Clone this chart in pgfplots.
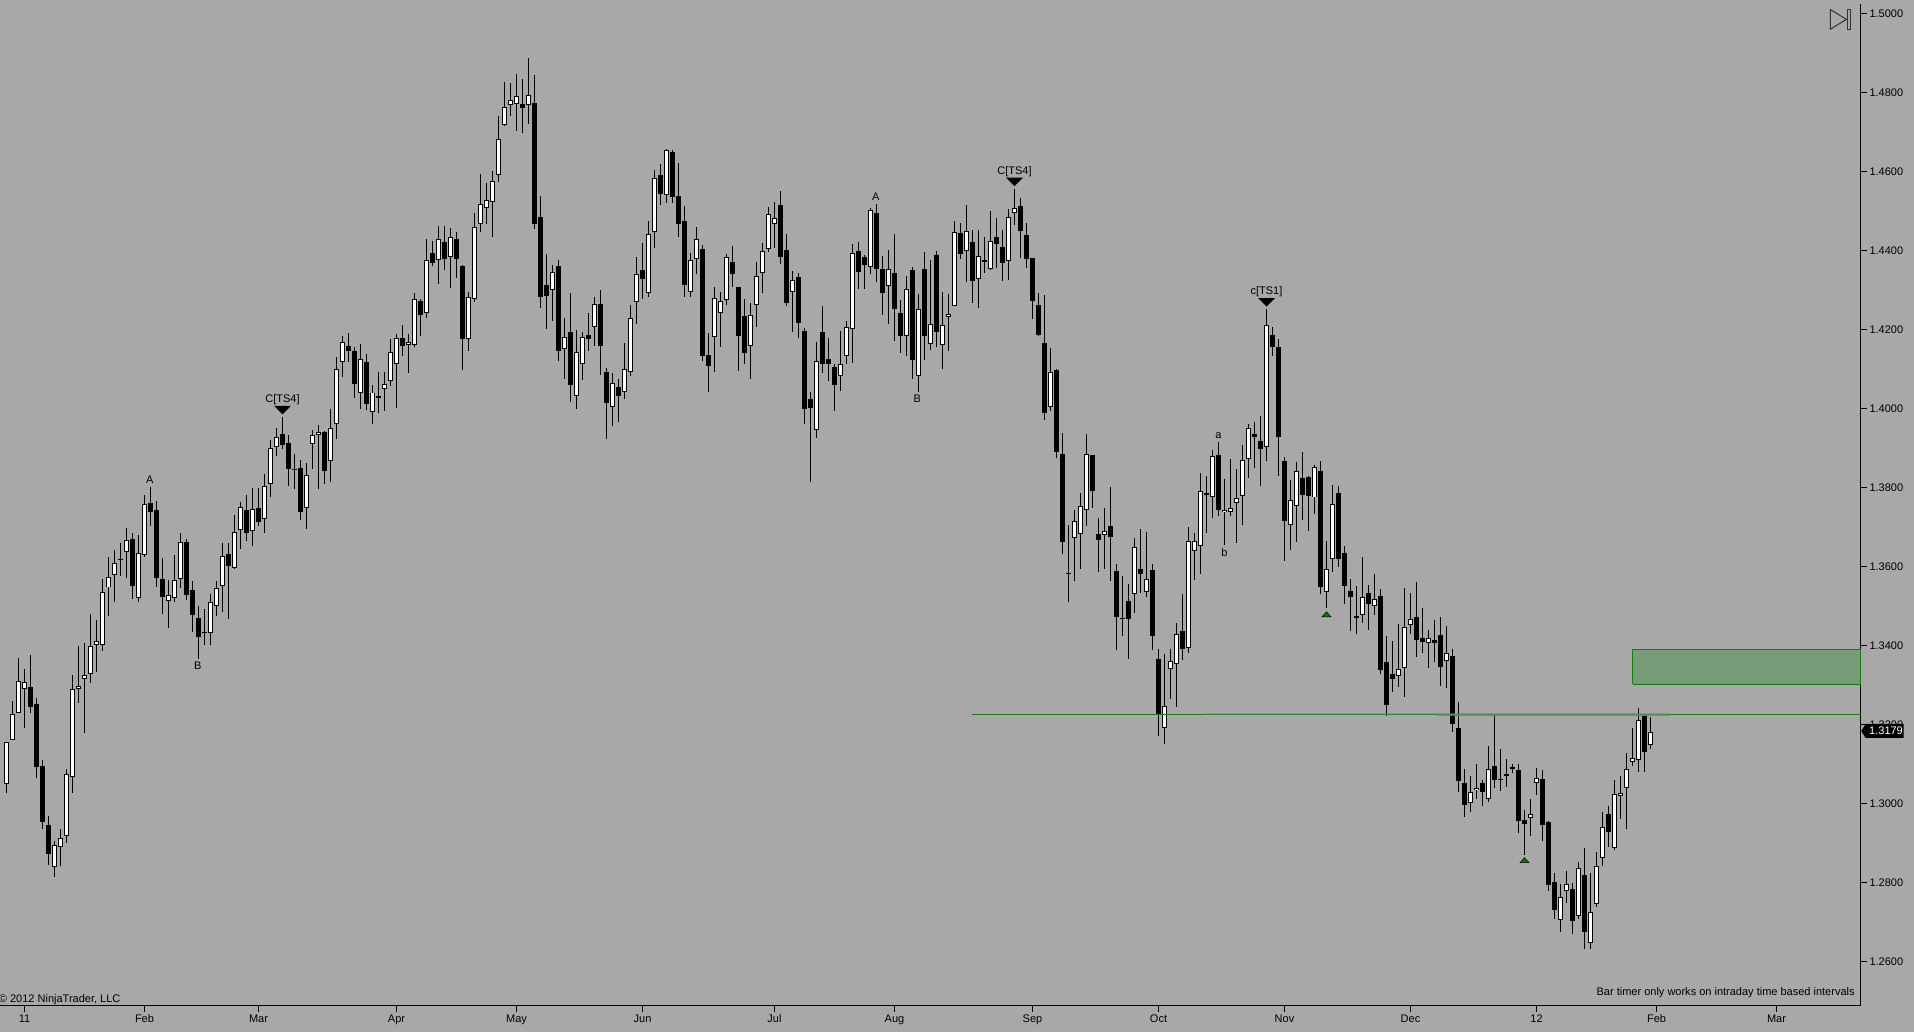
\documentclass[border=0pt]{standalone}
\usepackage{fontspec}
\setmainfont{Liberation Sans}
\usepackage{pgfplots}
\usepackage{pgfplotstable}
\pgfplotsset{compat=1.18}
\definecolor{chartbg}{HTML}{A8A8A8}
\definecolor{zonefill}{HTML}{789C78}
\definecolor{zoneline}{HTML}{0E820E}
\definecolor{levelline}{HTML}{1F7A1F}
\definecolor{levelband}{HTML}{5D8C5D}
\newcommand{\chartfont}{\fontsize{5.5pt}{6.5pt}\selectfont}
\pgfplotsset{candle/.style 2 args={draw=none,mark=none,forget plot,
    error bars/.cd,y dir=both,y explicit,error mark=none,
    error bar style={draw=#1,line width=#2}}}

% i open high low close
\pgfplotstableread{
i open high low close
0 1.3048 1.3155 1.3026 1.3155
1 1.3160 1.3259 1.3160 1.3226
2 1.3230 1.3368 1.3228 1.3309
3 1.3289 1.3341 1.3192 1.3307
8 1.2838 1.2906 1.2814 1.2894
9 1.2889 1.2935 1.2842 1.2912
10 1.2917 1.3087 1.2900 1.3074
11 1.3066 1.3325 1.3027 1.3289
12 1.3289 1.3399 1.3255 1.3297
13 1.3314 1.3406 1.3179 1.3325
14 1.3327 1.3480 1.3306 1.3398
15 1.3401 1.3465 1.3333 1.3411
16 1.3401 1.3568 1.3387 1.3535
17 1.3547 1.3624 1.3476 1.3573
18 1.3578 1.3642 1.3509 1.3608
20 1.3636 1.3698 1.3572 1.3667
22 1.3520 1.3680 1.3509 1.3634
23 1.3629 1.3781 1.3625 1.3758
27 1.3512 1.3566 1.3445 1.3527
28 1.3520 1.3629 1.3510 1.3565
29 1.3568 1.3684 1.3546 1.3661
34 1.3431 1.3531 1.3402 1.3509
35 1.3499 1.3564 1.3476 1.3545
36 1.3550 1.3660 1.3486 1.3626
38 1.3597 1.3731 1.3595 1.3687
39 1.3692 1.3764 1.3645 1.3750
41 1.3689 1.3800 1.3653 1.3745
43 1.3720 1.3835 1.3686 1.3803
44 1.3808 1.3920 1.3775 1.3900
45 1.3902 1.3951 1.3881 1.3929
50 1.3748 1.3862 1.3694 1.3831
51 1.3910 1.3946 1.3848 1.3934
52 1.3933 1.3959 1.3797 1.3940
54 1.3867 1.3999 1.3813 1.3950
55 1.3960 1.4130 1.3924 1.4100
56 1.4119 1.4184 1.4081 1.4168
59 1.4039 1.4164 1.3998 1.4125
61 1.3991 1.4060 1.3962 1.4041
62 1.4026 1.4093 1.3988 1.4031
63 1.4049 1.4093 1.3993 1.4063
64 1.4069 1.4177 1.4058 1.4143
65 1.4112 1.4188 1.4003 1.4178
67 1.4162 1.4189 1.4091 1.4168
68 1.4162 1.4292 1.4157 1.4277
70 1.4243 1.4429 1.4231 1.4376
72 1.4376 1.4463 1.4316 1.4429
74 1.4385 1.4457 1.4307 1.4434
77 1.4176 1.4296 1.4146 1.4282
78 1.4277 1.4496 1.4270 1.4460
79 1.4467 1.4594 1.4448 1.4518
80 1.4508 1.4571 1.4468 1.4528
81 1.4523 1.4602 1.4436 1.4576
82 1.4591 1.4742 1.4574 1.4682
83 1.4718 1.4828 1.4717 1.4764
84 1.4769 1.4825 1.4742 1.4781
85 1.4771 1.4848 1.4704 1.4791
87 1.4769 1.4888 1.4720 1.4794
91 1.4300 1.4364 1.4221 1.4346
93 1.4152 1.4229 1.4075 1.4181
95 1.4033 1.4199 1.4000 1.4143
96 1.4112 1.4194 1.4073 1.4181
98 1.4206 1.4283 1.4160 1.4264
101 1.4005 1.4090 1.3956 1.4064
103 1.4042 1.4167 1.4025 1.4100
104 1.4092 1.4262 1.4084 1.4229
105 1.4270 1.4384 1.4215 1.4340
107 1.4292 1.4475 1.4283 1.4442
108 1.4447 1.4605 1.4408 1.4584
110 1.4541 1.4658 1.4521 1.4655
114 1.4295 1.4394 1.4283 1.4376
115 1.4378 1.4460 1.4342 1.4429
118 1.4181 1.4308 1.4094 1.4280
119 1.4242 1.4296 1.4157 1.4272
120 1.4275 1.4391 1.4263 1.4384
124 1.4158 1.4267 1.4074 1.4237
125 1.4262 1.4371 1.4208 1.4335
126 1.4343 1.4419 1.4294 1.4399
127 1.4404 1.4510 1.4397 1.4492
128 1.4467 1.4523 1.4407 1.4482
131 1.4295 1.4348 1.4195 1.4325
135 1.3945 1.4168 1.3927 1.4120
139 1.4082 1.4197 1.4046 1.4112
140 1.4133 1.4222 1.4112 1.4206
141 1.4201 1.4416 1.4117 1.4394
144 1.4358 1.4508 1.4340 1.4503
147 1.4312 1.4402 1.4215 1.4353
150 1.4183 1.4335 1.4134 1.4302
152 1.4082 1.4291 1.4043 1.4253
154 1.4163 1.4377 1.4149 1.4214
156 1.4161 1.4296 1.4101 1.4211
157 1.4233 1.4291 1.4146 1.4241
158 1.4259 1.4476 1.4259 1.4447
160 1.4399 1.4516 1.4322 1.4449
162 1.4328 1.4453 1.4256 1.4386
164 1.4355 1.4501 1.4351 1.4424
167 1.4373 1.4505 1.4326 1.4485
168 1.4495 1.4557 1.4466 1.4508
174 1.4004 1.4154 1.3995 1.4092
178 1.3672 1.3743 1.3564 1.3715
179 1.3682 1.3787 1.3595 1.3753
180 1.3743 1.3935 1.3704 1.3884
183 1.3679 1.3749 1.3595 1.3689
188 1.3530 1.3672 1.3483 1.3649
190 1.3535 1.3688 1.3524 1.3568
193 1.3192 1.3379 1.3151 1.3246
194 1.3341 1.3390 1.3265 1.3362
195 1.3354 1.3457 1.3245 1.3429
197 1.3393 1.3700 1.3382 1.3664
198 1.3639 1.3684 1.3566 1.3664
199 1.3651 1.3836 1.3581 1.3791
200 1.3781 1.3830 1.3686 1.3786
201 1.3776 1.3895 1.3724 1.3879
203 1.3738 1.3822 1.3655 1.3744
204 1.3738 1.3873 1.3727 1.3749
205 1.3760 1.3847 1.3659 1.3773
206 1.3778 1.3907 1.3705 1.3869
207 1.3872 1.3960 1.3825 1.3950
210 1.3902 1.4253 1.3868 1.4211
214 1.3705 1.3819 1.3642 1.3768
215 1.3753 1.3864 1.3661 1.3841
218 1.3775 1.3857 1.3732 1.3852
220 1.3536 1.3664 1.3494 1.3593
221 1.3619 1.3807 1.3587 1.3758
225 1.3469 1.3551 1.3430 1.3474
226 1.3477 1.3623 1.3458 1.3524
228 1.3499 1.3581 1.3477 1.3517
232 1.3322 1.3454 1.3295 1.3340
233 1.3343 1.3546 1.3270 1.3446
234 1.3451 1.3533 1.3428 1.3467
237 1.3406 1.3439 1.3344 1.3420
240 1.3360 1.3449 1.3293 1.3382
244 1.3002 1.3069 1.2978 1.3028
245 1.3033 1.3100 1.3010 1.3040
247 1.3011 1.3145 1.3004 1.3086
254 1.2964 1.3011 1.2917 1.2973
255 1.3051 1.3089 1.3021 1.3065
259 1.2704 1.2796 1.2675 1.2764
260 1.2777 1.2829 1.2748 1.2797
262 1.2716 1.2851 1.2707 1.2836
264 1.2646 1.2824 1.2630 1.2726
265 1.2744 1.2877 1.2738 1.2842
266 1.2861 1.2978 1.2842 1.2939
268 1.2888 1.3059 1.2883 1.3023
269 1.3020 1.3069 1.2960 1.3027
270 1.3039 1.3128 1.2936 1.3088
271 1.3106 1.3192 1.3096 1.3114
272 1.3109 1.3242 1.3080 1.3211
274 1.3147 1.3219 1.3139 1.3182
}\upbars

\pgfplotstableread{
i open high low close
4 1.3295 1.3376 1.3230 1.3245
5 1.3252 1.3266 1.3065 1.3091
6 1.3095 1.3110 1.2936 1.2954
7 1.2945 1.2968 1.2844 1.2873
19 1.3618 1.3660 1.3577 1.3616
21 1.3670 1.3684 1.3519 1.3552
24 1.3761 1.3802 1.3704 1.3737
25 1.3743 1.3766 1.3547 1.3572
26 1.3569 1.3622 1.3481 1.3524
30 1.3662 1.3669 1.3516 1.3529
31 1.3540 1.3564 1.3435 1.3478
32 1.3470 1.3500 1.3367 1.3422
33 1.3434 1.3493 1.3401 1.3432
37 1.3632 1.3660 1.3468 1.3602
40 1.3743 1.3781 1.3666 1.3686
42 1.3748 1.3800 1.3703 1.3714
46 1.3935 1.3980 1.3898 1.3909
47 1.3912 1.3933 1.3803 1.3846
48 1.3848 1.3885 1.3797 1.3846
49 1.3851 1.3870 1.3718 1.3739
53 1.3940 1.3944 1.3810 1.3843
57 1.4159 1.4191 1.4119 1.4146
58 1.4145 1.4157 1.4028 1.4063
60 1.4118 1.4139 1.3997 1.4013
66 1.4178 1.4212 1.4134 1.4160
69 1.4272 1.4277 1.4183 1.4238
71 1.4394 1.4425 1.4362 1.4370
73 1.4422 1.4463 1.4351 1.4379
75 1.4429 1.4448 1.4332 1.4378
76 1.4362 1.4363 1.4098 1.4177
86 1.4772 1.4835 1.4699 1.4762
88 1.4775 1.4845 1.4456 1.4469
89 1.4486 1.4539 1.4256 1.4284
90 1.4313 1.4392 1.4203 1.4286
92 1.4362 1.4377 1.4122 1.4145
94 1.4194 1.4293 1.4018 1.4061
97 1.4187 1.4242 1.4146 1.4177
99 1.4265 1.4300 1.4086 1.4160
100 1.4093 1.4102 1.3924 1.4015
102 1.4055 1.4074 1.3966 1.4031
106 1.4351 1.4419 1.4279 1.4329
109 1.4592 1.4619 1.4517 1.4545
111 1.4650 1.4655 1.4522 1.4537
112 1.4539 1.4622 1.4436 1.4469
113 1.4476 1.4514 1.4284 1.4314
116 1.4405 1.4414 1.4122 1.4134
117 1.4136 1.4191 1.4043 1.4107
121 1.4372 1.4412 1.4309 1.4342
122 1.4308 1.4308 1.4096 1.4185
123 1.4235 1.4277 1.4112 1.4142
129 1.4516 1.4552 1.4367 1.4385
130 1.4402 1.4442 1.4259 1.4269
132 1.4334 1.4343 1.4180 1.4218
133 1.4197 1.4204 1.3962 1.4000
134 1.4025 1.4042 1.3815 1.4003
136 1.4194 1.4260 1.4091 1.4112
137 1.4126 1.4178 1.4069 1.4112
138 1.4106 1.4112 1.3993 1.4061
142 1.4400 1.4422 1.4304 1.4347
143 1.4384 1.4389 1.4304 1.4365
145 1.4496 1.4519 1.4322 1.4355
146 1.4354 1.4387 1.4237 1.4294
148 1.4344 1.4442 1.4172 1.4253
149 1.4242 1.4275 1.4142 1.4183
151 1.4351 1.4358 1.4074 1.4124
153 1.4354 1.4396 1.4123 1.4183
155 1.4390 1.4400 1.4157 1.4195
159 1.4444 1.4470 1.4379 1.4393
161 1.4422 1.4452 1.4268 1.4324
163 1.4376 1.4435 1.4345 1.4371
165 1.4435 1.4483 1.4356 1.4418
166 1.4409 1.4453 1.4324 1.4368
169 1.4513 1.4534 1.4382 1.4451
170 1.4440 1.4470 1.4357 1.4380
171 1.4382 1.4382 1.4228 1.4274
172 1.4263 1.4292 1.4183 1.4187
173 1.4167 1.4288 1.3972 1.3990
175 1.4098 1.4101 1.3874 1.3891
176 1.3884 1.3938 1.3632 1.3663
177 1.3584 1.3705 1.3509 1.3582
181 1.3883 1.3883 1.3749 1.3792
182 1.3683 1.3723 1.3587 1.3668
184 1.3703 1.3802 1.3564 1.3676
185 1.3589 1.3607 1.3389 1.3473
186 1.3469 1.3575 1.3425 1.3466
187 1.3513 1.3556 1.3367 1.3468
189 1.3594 1.3694 1.3532 1.3580
191 1.3591 1.3606 1.3389 1.3425
192 1.3366 1.3390 1.3172 1.3227
196 1.3437 1.3531 1.3363 1.3392
202 1.3883 1.3916 1.3727 1.3744
208 1.3935 1.3967 1.3851 1.3929
209 1.3917 1.3982 1.3803 1.3899
211 1.4187 1.4206 1.4134 1.4157
212 1.4156 1.4177 1.3830 1.3929
213 1.3868 1.3877 1.3615 1.3716
216 1.3825 1.3890 1.3718 1.3781
217 1.3827 1.3830 1.3689 1.3780
219 1.3842 1.3867 1.3531 1.3549
222 1.3786 1.3804 1.3599 1.3620
223 1.3635 1.3652 1.3505 1.3552
224 1.3537 1.3569 1.3438 1.3522
227 1.3533 1.3553 1.3440 1.3506
229 1.3525 1.3543 1.3329 1.3339
230 1.3357 1.3424 1.3222 1.3250
231 1.3327 1.3411 1.3282 1.3314
235 1.3472 1.3560 1.3372 1.3415
236 1.3419 1.3496 1.3382 1.3410
238 1.3413 1.3465 1.3359 1.3406
239 1.3426 1.3472 1.3297 1.3346
241 1.3373 1.3391 1.3180 1.3202
242 1.3192 1.3257 1.3028 1.3058
243 1.3051 1.3087 1.2966 1.2997
246 1.3051 1.3059 1.2994 1.3028
248 1.3094 1.3227 1.3040 1.3060
249 1.3062 1.3138 1.3032 1.3060
250 1.3074 1.3112 1.3041 1.3070
251 1.3092 1.3099 1.3076 1.3086
252 1.3084 1.3099 1.2926 1.2956
253 1.2958 1.2983 1.2869 1.2949
256 1.3061 1.3085 1.2906 1.2946
257 1.2952 1.2955 1.2779 1.2794
258 1.2800 1.2824 1.2706 1.2731
261 1.2783 1.2798 1.2668 1.2703
263 1.2818 1.2888 1.2630 1.2675
267 1.2973 1.2993 1.2890 1.2928
273 1.3221 1.3226 1.3080 1.3129
}\downbars

\begin{document}
\begin{tikzpicture}[x=1pt,y=1pt]
\path[use as bounding box,fill=chartbg] (0,0) rectangle (957,516);
\begin{axis}[
    at={(0pt,13.25pt)}, anchor=south west,
    scale only axis, width=930.25pt, height=500.75pt,
    xmin=-1.0833, xmax=309, ymin=1.2488, ymax=1.50253,
    clip=false,
    axis x line*=bottom, axis y line*=right,
    axis line style={black,line width=.5pt,-},
    tick align=outside, major tick length=3.3pt,
    tick style={black,line width=.5pt},
    xtick={3,23,42,65,85,106,128,148,171,192,213,234,255,275,295},
    xticklabels={11,Feb,Mar,Apr,May,Jun,Jul,Aug,Sep,Oct,Nov,Dec,12,Feb,Mar},
    ytick={1.26,1.28,1.30,1.32,1.34,1.36,1.38,1.40,1.42,1.44,1.46,1.48,1.50},
    scaled y ticks=false,
    tick label style={font=\chartfont,text=black},
    yticklabel style={inner sep=1pt,/pgf/number format/.cd,fixed,fixed zerofill,precision=4,assume math mode=true},
    xticklabel style={inner sep=1pt},
]
% wicks
\addplot[candle={black}{.5pt}]
    table[x=i,y=high,y error plus expr=0,y error minus expr=\thisrow{high}-\thisrow{low}] {\upbars};
\addplot[candle={black}{.5pt}]
    table[x=i,y=high,y error plus expr=0,y error minus expr=\thisrow{high}-\thisrow{low}] {\downbars};
% bodies
\addplot[candle={black}{2.5pt}]
    table[x=i,y=open,y error plus expr=0,y error minus expr=\thisrow{open}-\thisrow{close}] {\downbars};
\addplot[candle={black}{2.5pt}]
    table[x=i,y=close,y error plus expr=0,y error minus expr=\thisrow{close}-\thisrow{open}] {\upbars};
\addplot[candle={white}{1.5pt}]
    table[x=i,y expr=\thisrow{close}-0.00025,y error plus expr=0,y error minus expr={max(\thisrow{close}-\thisrow{open}-0.0005,0)}] {\upbars};

% zone and level
\addplot[draw=zoneline,fill=zonefill,line width=.5pt] coordinates {(271,1.33017) (271,1.33904) (309,1.33904) (309,1.33017) (271,1.33017)};
\addplot[levelline,line width=.6pt] coordinates {(160.9,1.32245) (309,1.32245)};
\addplot[levelband,opacity=.5,line width=1pt] coordinates {(199.7,1.32255) (277.3,1.32255)};
\addplot[levelband,opacity=.8,line width=1pt] coordinates {(238.4,1.32245) (277.3,1.32245)};

% signal triangles
\addplot[only marks,mark=triangle*,mark size=4.33pt,mark options={yscale=-.58,fill=black,draw=none}]
    coordinates {(46,1.4000) (168,1.4578) (210,1.4273)};
\addplot[only marks,mark=triangle*,mark size=2.6pt,mark options={yscale=.64,fill=green!50!black,draw=black,line width=.25pt}]
    coordinates {(220,1.3477) (253,1.2854)};

% labels
\begin{scope}[every node/.style={font=\chartfont,text=black,inner sep=0pt}]
\node at (axis cs:23.9,1.3819) {A};
\node at (axis cs:31.9,1.3348) {B};
\node at (axis cs:46,1.4024) {C[TS4]};
\node at (axis cs:144.9,1.4536) {A};
\node at (axis cs:151.8,1.4025) {B};
\node at (axis cs:168,1.4600) {C[TS4]};
\node at (axis cs:210,1.4296) {c[TS1]};
\node at (axis cs:202,1.3932) {a};
\node at (axis cs:203,1.3636) {b};
\end{scope}
\end{axis}
% text and price tag
\node[font=\chartfont,text=black,anchor=base east,inner sep=0pt] at (60.4,15) {© 2012 NinjaTrader, LLC};
\node[font=\chartfont,text=black,anchor=base east,inner sep=0pt] at (927.5,18.2) {Bar timer only works on intraday time based intervals};
\fill[black] (930.6,150.5) -- (932.8,154) -- (951.85,154) -- (951.85,147) -- (932.8,147) -- cycle;
\node[font=\chartfont,text=white,inner sep=0pt] at (943,150.5) {1.3179};
\draw[black!80,line width=.5pt] (915.2,511.2) -- (915.2,501.4) -- (923.2,506.3) -- cycle;
\draw[black!80,line width=.5pt] (923.7,511.2) rectangle (925.4,501.4);
\end{tikzpicture}
\end{document}
